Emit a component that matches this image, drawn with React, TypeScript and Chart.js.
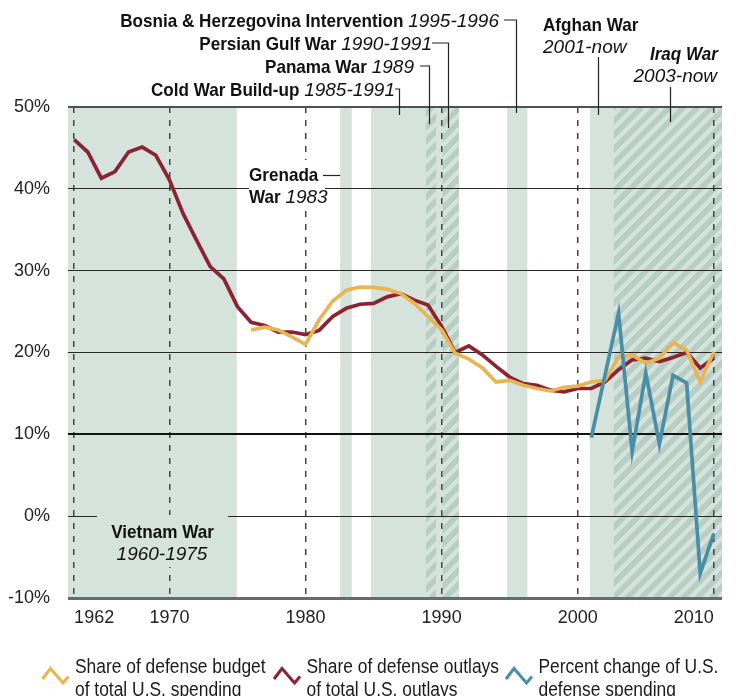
import React, { useEffect, useRef } from 'react';
import { Chart, registerables } from 'chart.js';

Chart.register(...registerables);

// ---------- DATA ----------
const YEARS = [
  1963, 1964, 1965, 1966, 1967, 1968, 1969, 1970, 1971, 1972, 1973, 1974, 1975, 1976, 1977, 1978,
  1979, 1980, 1981, 1982, 1983, 1984, 1985, 1986, 1987, 1988, 1989, 1990, 1991, 1992, 1993, 1994,
  1995, 1996, 1997, 1998, 1999, 2000, 2001, 2002, 2003, 2004, 2005, 2006, 2007, 2008, 2009, 2010,
];

// Share of defense outlays of total U.S. outlays (%)
const OUTLAYS_SHARE = [
  46.0, 44.5, 41.3, 42.1, 44.5, 45.1, 44.1, 41.1, 37.0, 33.7, 30.5, 29.0, 25.6, 23.7, 23.3, 22.5,
  22.5, 22.2, 22.7, 24.4, 25.4, 25.9, 26.0, 26.8, 27.2, 26.4, 25.8, 23.2, 20.0, 20.8, 19.7, 18.3,
  17.0, 16.2, 16.0, 15.4, 15.2, 15.6, 15.6, 16.4, 17.9, 19.1, 19.3, 18.9, 19.4, 20.0, 18.1, 19.3,
];

// Share of defense budget of total U.S. spending (%)
const BUDGET_YEARS = [
  1976, 1977, 1978, 1979, 1980, 1981, 1982, 1983, 1984, 1985, 1986, 1987, 1988, 1989, 1990, 1991,
  1992, 1993, 1994, 1995, 1996, 1997, 1998, 1999, 2000, 2001, 2002, 2003, 2004, 2005, 2006, 2007,
  2008, 2009, 2010,
];
const BUDGET_SHARE = [
  22.75, 23.1, 22.75, 21.9, 21.0, 24.0, 26.3, 27.6, 28.0, 27.95, 27.75, 27.2, 26.0, 24.4, 22.75, 19.9,
  19.2, 18.1, 16.4, 16.6, 16.0, 15.6, 15.3, 15.75, 15.9, 16.4, 16.6, 19.4, 19.7, 18.7, 19.3, 21.2,
  20.3, 16.4, 20.1,
];

// Percent change of U.S. defense spending (%)
const CHANGE_YEARS = [2001, 2003, 2004, 2005, 2006, 2007, 2008, 2009, 2010];
const CHANGE = [9.6, 24.8, 7.9, 17.5, 8.8, 17.2, 16.3, -7.0, -2.1];

const X_TICK_YEARS = [1963, 1970, 1980, 1990, 2000, 2010];
const X_TICK_LABELS = ['1962', '1970', '1980', '1990', '2000', '2010'];
const Y_TICKS = [-10, 0, 10, 20, 30, 40, 50];

// War periods (shaded), in years
const BANDS = [
  { from: 1960, to: 1974.95, hatch: false }, // Vietnam
  { from: 1982.55, to: 1983.4, hatch: false }, // Grenada
  { from: 1984.8, to: 1991.27, hatch: false }, // Cold War build-up
  { from: 1988.85, to: 1989.6, hatch: true }, // Panama
  { from: 1990.08, to: 1991.27, hatch: true }, // Persian Gulf
  { from: 1994.8, to: 1996.3, hatch: false }, // Bosnia
  { from: 2000.9, to: 2012, hatch: false }, // Afghanistan
  { from: 2002.65, to: 2012, hatch: true }, // Iraq
];

// ---------- STYLE ----------
const FONT = "'Liberation Sans', Arial, sans-serif";
const BAND = '#d6e2dc';
const STRIPE = '#b6cec3';
const RED = '#8b2432';
const YELLOW = '#e8b552';
const BLUE = '#4a8ea6';

type Run = { t: string; b?: boolean; i?: boolean; sx?: number };

function setFont(ctx: CanvasRenderingContext2D, r: Run, size: number) {
  ctx.font = `${r.i ? 'italic ' : ''}${r.b ? 'bold ' : ''}${size}px ${FONT}`;
}
function runsWidth(ctx: CanvasRenderingContext2D, runs: Run[], size: number) {
  let w = 0;
  for (const r of runs) {
    setFont(ctx, r, size);
    w += ctx.measureText(r.t).width * (r.sx ?? 1);
  }
  return w;
}
function drawRuns(
  ctx: CanvasRenderingContext2D,
  runs: Run[],
  x: number,
  y: number,
  align: 'left' | 'right' | 'center',
  size: number
) {
  const total = runsWidth(ctx, runs, size);
  let cx = align === 'left' ? x : align === 'right' ? x - total : x - total / 2;
  ctx.textAlign = 'left';
  ctx.textBaseline = 'alphabetic';
  for (const r of runs) {
    setFont(ctx, r, size);
    const w = ctx.measureText(r.t).width;
    const sx = r.sx ?? 1;
    ctx.save();
    ctx.translate(cx, y);
    ctx.scale(sx, 1);
    ctx.fillText(r.t, 0, 0);
    ctx.restore();
    cx += w * sx;
  }
  return { end: cx };
}

const B = 0.9; // condensation of bold text
const TOP_NOTES = [
  { runs: [{ t: 'Bosnia & Herzegovina Intervention ', b: true, sx: B }, { t: '1995-1996', i: true }], right: 499, y: 27, gap: 5, year: 1995.5, bottom: 113 },
  { runs: [{ t: 'Persian Gulf War ', b: true, sx: B }, { t: '1990-1991', i: true }], right: 432, y: 50, gap: 0, year: 1990.5, bottom: 128 },
  { runs: [{ t: 'Panama War ', b: true, sx: B }, { t: '1989', i: true }], right: 414, y: 73, gap: 6, year: 1989.1, bottom: 124 },
  { runs: [{ t: 'Cold War Build-up ', b: true, sx: B }, { t: '1985-1991', i: true }], right: 395, y: 96, gap: 0, year: 1986.9, bottom: 115 },
];

const annotationsPlugin = {
  id: 'warAnnotations',
  beforeDraw(chart: any) {
    const { ctx, chartArea: a, scales } = chart;
    const x = scales.x;
    ctx.save();
    ctx.fillStyle = '#ffffff';
    ctx.fillRect(0, 0, chart.width, chart.height);
    ctx.beginPath();
    ctx.rect(a.left, a.top, a.right - a.left, a.bottom - a.top);
    ctx.clip();
    for (const band of BANDS) {
      const x0 = Math.max(a.left, x.getPixelForValue(band.from));
      const x1 = Math.min(a.right, x.getPixelForValue(band.to));
      ctx.fillStyle = BAND;
      ctx.fillRect(x0, a.top, x1 - x0, a.bottom - a.top);
    }
    for (const band of BANDS) {
      if (!band.hatch) continue;
      const x0 = Math.max(a.left, x.getPixelForValue(band.from));
      const x1 = Math.min(a.right, x.getPixelForValue(band.to));
      ctx.save();
      ctx.beginPath();
      ctx.rect(x0, a.top, x1 - x0, a.bottom - a.top);
      ctx.clip();
      ctx.strokeStyle = STRIPE;
      ctx.lineWidth = 5.5;
      const h = a.bottom - a.top;
      for (let sx = a.left - h; sx < a.right + 20; sx += 14) {
        if (sx + h < x0 - 10 || sx > x1 + 10) continue;
        ctx.beginPath();
        ctx.moveTo(sx, a.bottom);
        ctx.lineTo(sx + h, a.top);
        ctx.stroke();
      }
      ctx.restore();
    }
    ctx.restore();
  },
  beforeDatasetsDraw(chart: any) {
    const { ctx } = chart;
    ctx.save();
    // Vietnam label plate
    ctx.fillStyle = BAND;
    ctx.fillRect(97, 515, 131, 52);
    // Grenada label plate
    ctx.fillStyle = '#ffffff';
    ctx.fillRect(249, 160, 76, 46);
    ctx.restore();
  },
  afterDraw(chart: any) {
    const { ctx, scales } = chart;
    const x = scales.x;
    ctx.save();
    ctx.fillStyle = '#111';
    ctx.strokeStyle = '#222';
    ctx.lineWidth = 1.2;
    for (const n of TOP_NOTES) {
      const r = drawRuns(ctx, n.runs, n.right, n.y, 'right', 19);
      const lx = Math.round(x.getPixelForValue(n.year)) + 0.5;
      const ly = n.y - 7;
      ctx.beginPath();
      ctx.moveTo(r.end + n.gap, ly);
      ctx.lineTo(lx, ly);
      ctx.lineTo(lx, n.bottom);
      ctx.stroke();
    }
    // Afghan War
    drawRuns(ctx, [{ t: 'Afghan War', b: true, sx: B }], 543, 30.5, 'left', 19);
    drawRuns(ctx, [{ t: '2001-now', i: true }], 543, 53, 'left', 19);
    let lx = Math.round(x.getPixelForValue(2001.5)) + 0.5;
    ctx.beginPath();
    ctx.moveTo(lx, 57);
    ctx.lineTo(lx, 115);
    ctx.stroke();
    // Iraq War
    drawRuns(ctx, [{ t: 'Iraq War', b: true, i: true, sx: B }], 718, 60, 'right', 19);
    drawRuns(ctx, [{ t: '2003-now', i: true }], 717, 81.5, 'right', 19);
    lx = Math.round(x.getPixelForValue(2006.8)) + 0.5;
    ctx.beginPath();
    ctx.moveTo(lx, 87);
    ctx.lineTo(lx, 122);
    ctx.stroke();
    // Grenada
    drawRuns(ctx, [{ t: 'Grenada', b: true, sx: B }], 249, 180.5, 'left', 19);
    drawRuns(ctx, [{ t: 'War ', b: true, sx: B }, { t: '1983', i: true }], 249, 203, 'left', 19);
    ctx.beginPath();
    ctx.moveTo(323, 175.5);
    ctx.lineTo(x.getPixelForValue(1982.55), 175.5);
    ctx.stroke();
    // Vietnam
    drawRuns(ctx, [{ t: 'Vietnam War', b: true, sx: B }], 162.5, 537.5, 'center', 19);
    drawRuns(ctx, [{ t: '1960-1975', i: true }], 162, 560, 'center', 19);

    // Legend
    const items = [
      { c: YELLOW, x: 42.5, l1: 'Share of defense budget', l2: 'of total U.S. spending' },
      { c: RED, x: 274, l1: 'Share of defense outlays', l2: 'of total U.S. outlays' },
      { c: BLUE, x: 506, l1: 'Percent change of U.S.', l2: 'defense spending' },
    ];
    for (const it of items) {
      ctx.strokeStyle = it.c;
      ctx.lineWidth = 3;
      ctx.lineJoin = 'miter';
      ctx.beginPath();
      ctx.moveTo(it.x, 679);
      ctx.lineTo(it.x + 8, 668.5);
      ctx.lineTo(it.x + 20.5, 683);
      ctx.lineTo(it.x + 26, 676.5);
      ctx.stroke();
      ctx.fillStyle = '#1a1a1a';
      drawRuns(ctx, [{ t: it.l1, sx: 0.87 }], it.x + 32.5, 673, 'left', 20);
      drawRuns(ctx, [{ t: it.l2, sx: 0.87 }], it.x + 32.5, 696, 'left', 20);
    }
    ctx.restore();
  },
};

function gridStyle(v: number) {
  if (v === 50) return { c: '#4f4f4f', w: 2 };
  if (v === 10) return { c: '#111111', w: 2 };
  if (v === -10) return { c: '#6a6a6a', w: 3 };
  return { c: '#262626', w: 1 };
}

export default function App() {
  const ref = useRef<HTMLCanvasElement>(null);
  useEffect(() => {
    const canvas = ref.current;
    if (!canvas) return;
    const chart = new Chart(canvas, {
      type: 'line',
      data: {
        datasets: [
          {
            label: 'Percent change of U.S. defense spending',
            data: CHANGE.map((v, i) => ({ x: CHANGE_YEARS[i], y: v })),
            borderColor: BLUE,
          },
          {
            label: 'Share of defense budget of total U.S. spending',
            data: BUDGET_SHARE.map((v, i) => ({ x: BUDGET_YEARS[i], y: v })),
            borderColor: YELLOW,
          },
          {
            label: 'Share of defense outlays of total U.S. outlays',
            data: OUTLAYS_SHARE.map((v, i) => ({ x: YEARS[i], y: v })),
            borderColor: RED,
          },
        ],
      },
      options: {
        animation: false,
        responsive: false,
        devicePixelRatio: 1,
        layout: { padding: { top: 107, right: 14, bottom: 58, left: 0 } },
        plugins: { legend: { display: false }, tooltip: { enabled: false } },
        elements: {
          point: { radius: 0 },
          line: { borderWidth: 3.7, tension: 0, fill: false, borderJoinStyle: 'miter' },
        },
        scales: {
          x: {
            type: 'linear',
            min: 1962.55,
            max: 2010.6,
            afterBuildTicks: (s: any) => {
              s.ticks = X_TICK_YEARS.map((v) => ({ value: v }));
            },
            afterFit: (s: any) => {
              s.height = 40;
            },
            ticks: {
              align: 'inner',
              padding: 9,
              autoSkip: false,
              maxRotation: 0,
              color: '#222',
              font: { family: FONT, size: 18 },
              callback: (_v: any, i: number) => X_TICK_LABELS[i],
            },
            grid: { color: '#444', lineWidth: 1.5, drawTicks: false },
            border: { display: false, dash: [6, 7] },
          },
          y: {
            min: -10,
            max: 50,
            afterBuildTicks: (s: any) => {
              s.ticks = Y_TICKS.map((v) => ({ value: v }));
            },
            afterFit: (s: any) => {
              s.width = 68;
            },
            ticks: {
              padding: 18,
              color: '#222',
              font: { family: FONT, size: 18 },
              callback: (v: any) => `${v}%`,
            },
            grid: {
              drawTicks: false,
              color: (c: any) => gridStyle(c.tick?.value).c,
              lineWidth: (c: any) => gridStyle(c.tick?.value).w,
            },
            border: { display: false },
          },
        },
      },
      plugins: [annotationsPlugin],
    } as any);
    return () => chart.destroy();
  }, []);
  return (
    <div style={{ position: 'fixed', left: 0, top: 0, width: 736, height: 696, background: '#fff' }}>
      <canvas ref={ref} width={736} height={696} style={{ width: 736, height: 696, display: 'block' }} />
    </div>
  );
}
